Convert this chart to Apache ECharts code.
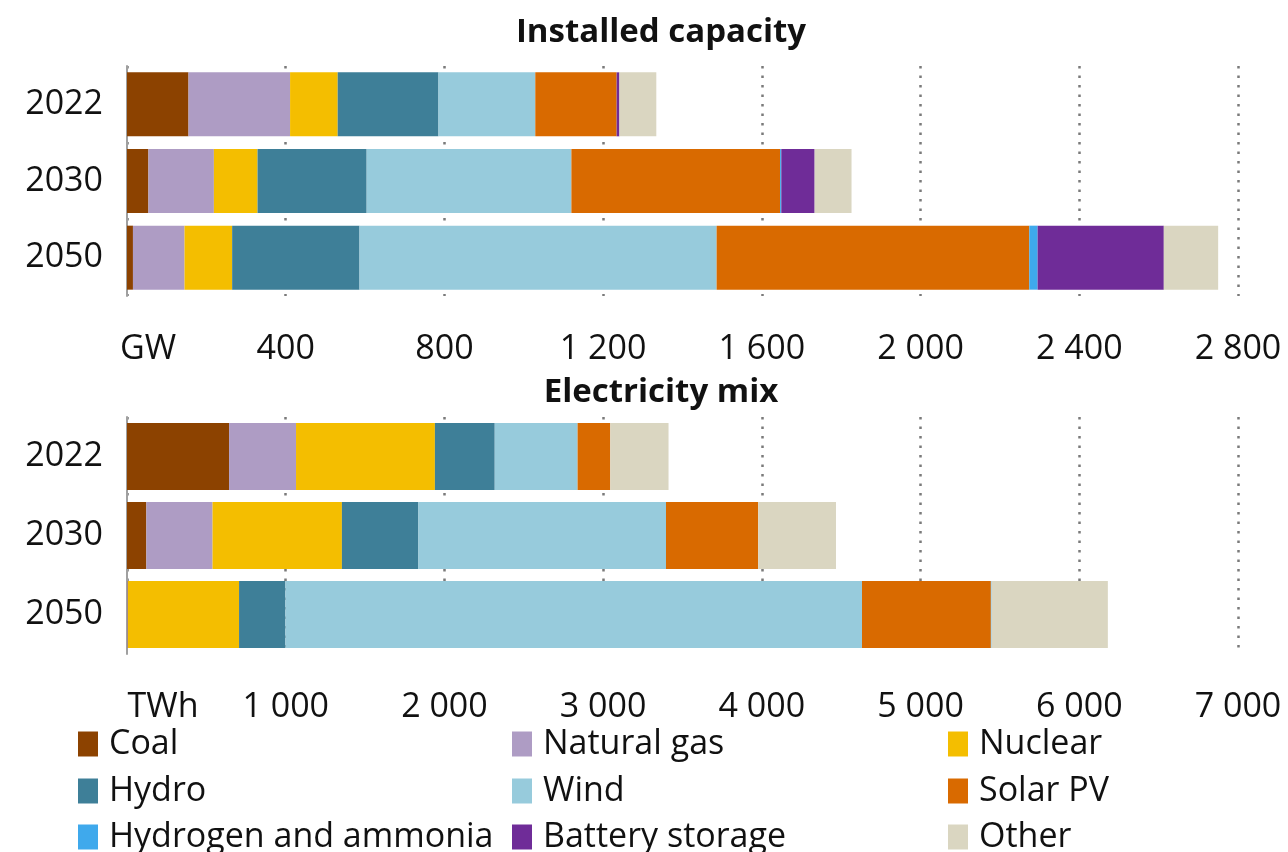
<!DOCTYPE html>
<html>
<head>
<meta charset="utf-8">
<script src="https://cdn.jsdelivr.net/npm/echarts@6/dist/echarts.min.js"></script>
<style>
  html, body { margin: 0; padding: 0; background: #fff; }
  #chart { width: 1288px; height: 852px; }
</style>
</head>
<body>
<div id="chart"></div>
<script>
// years (rows)
var years = ['2022', '2030', '2050'];

// installed capacity, GW
var capCoal = [155, 54, 15];
var capGas = [256, 165, 130];
var capNuclear = [120, 110, 120];
var capHydro = [254, 275, 321];
var capWind = [244, 516, 900];
var capSolar = [205, 526, 788];
var capHydrogen = [0, 3, 21];
var capBattery = [7, 84, 318];
var capOther = [93, 93, 137];

// electricity mix, TWh
var genCoal = [643, 122, 3];
var genGas = [422, 417, 3];
var genNuclear = [875, 815, 700];
var genHydro = [377, 482, 292];
var genWind = [522, 1560, 3633];
var genSolar = [206, 581, 812];
var genHydrogen = [0, 0, 4];
var genBattery = [0, 0, 0];
var genOther = [367, 490, 733];

var sources = ['Coal', 'Natural gas', 'Nuclear', 'Hydro', 'Wind', 'Solar PV',
               'Hydrogen and ammonia', 'Battery storage', 'Other'];
var colors = ['#8c4200', '#ae9cc4', '#f4be00', '#3e7f98', '#97cbdc', '#d96a00',
              '#3fa9ec', '#6f2c98', '#dad6c1'];

var capTicks = [0, 400, 800, 1200, 1600, 2000, 2400, 2800];
var genTicks = [0, 1000, 2000, 3000, 4000, 5000, 6000, 7000];

var capData = [capCoal, capGas, capNuclear, capHydro, capWind, capSolar, capHydrogen, capBattery, capOther];
var genData = [genCoal, genGas, genNuclear, genHydro, genWind, genSolar, genHydrogen, genBattery, genOther];

var font = "'Open Sans', sans-serif";
var txt = '#111';

function fmt(v) {
    return String(v).replace(/\B(?=(\d{3})+(?!\d))/g, ' ');
}

function xAxisFor(grid, ticks, unit, pad) {
    return {
        type: 'value', gridIndex: grid,
        min: ticks[0], max: ticks[ticks.length - 1], interval: ticks[1] - ticks[0],
        axisLine: { show: false }, axisTick: { show: false },
        splitLine: { show: true, lineStyle: { color: '#7a7a7a', width: 2.5, type: [2.5, 7] } },
        axisLabel: {
            margin: 36, fontFamily: font, fontSize: 34, color: txt,
            formatter: function (v) { return v === 0 ? '{u|' + unit + '}' : fmt(v); },
            rich: { u: { fontFamily: font, fontSize: 34, color: txt, padding: [0, 0, 0, pad] } }
        }
    };
}

function yAxisFor(grid) {
    return {
        type: 'category', gridIndex: grid, data: years, inverse: true,
        axisLine: { show: true, lineStyle: { color: '#a0a0a0', width: 2 } },
        axisTick: { show: false },
        axisLabel: { margin: 24, fontFamily: font, fontSize: 34, color: txt }
    };
}

var series = [];
sources.forEach(function (name, i) {
    series.push({
        name: name, type: 'bar', stack: 'cap', xAxisIndex: 0, yAxisIndex: 0,
        barWidth: 64, data: capData[i], itemStyle: { color: colors[i] }
    });
});
sources.forEach(function (name, i) {
    series.push({
        name: name, type: 'bar', stack: 'gen', xAxisIndex: 1, yAxisIndex: 1,
        barWidth: 67, data: genData[i], itemStyle: { color: colors[i] }
    });
});

// legend: 3 columns x 3 rows, one small legend per entry
var legendCols = [78, 512, 948];
var legendRows = [727, 774, 820];
var legends = sources.map(function (name, i) {
    return {
        left: legendCols[i % 3], top: legendRows[Math.floor(i / 3)], padding: 0,
        itemWidth: 20, itemHeight: 25, icon: 'rect',
        data: [name], selectedMode: false,
        textStyle: { fontFamily: font, fontSize: 34, color: txt, lineHeight: 28, padding: [0, 0, 0, 6] }
    };
});

var chart = echarts.init(document.getElementById('chart'));
chart.setOption({
    animation: false,
    color: colors,
    title: [
        { text: 'Installed capacity', left: 656, top: 11, textAlign: 'center',
          textStyle: { fontFamily: font, fontSize: 33, fontWeight: 'bold', color: txt } },
        { text: 'Electricity mix', left: 656, top: 371, textAlign: 'center',
          textStyle: { fontFamily: font, fontSize: 33, fontWeight: 'bold', color: txt } }
    ],
    grid: [
        { left: 127, right: 50, top: 66, height: 230 },
        { left: 127, right: 50, top: 417, height: 237 }
    ],
    xAxis: [xAxisFor(0, capTicks, 'GW', 42), xAxisFor(1, genTicks, 'TWh', 72)],
    yAxis: [yAxisFor(0), yAxisFor(1)],
    legend: legends,
    series: series
});
</script>
</body>
</html>
